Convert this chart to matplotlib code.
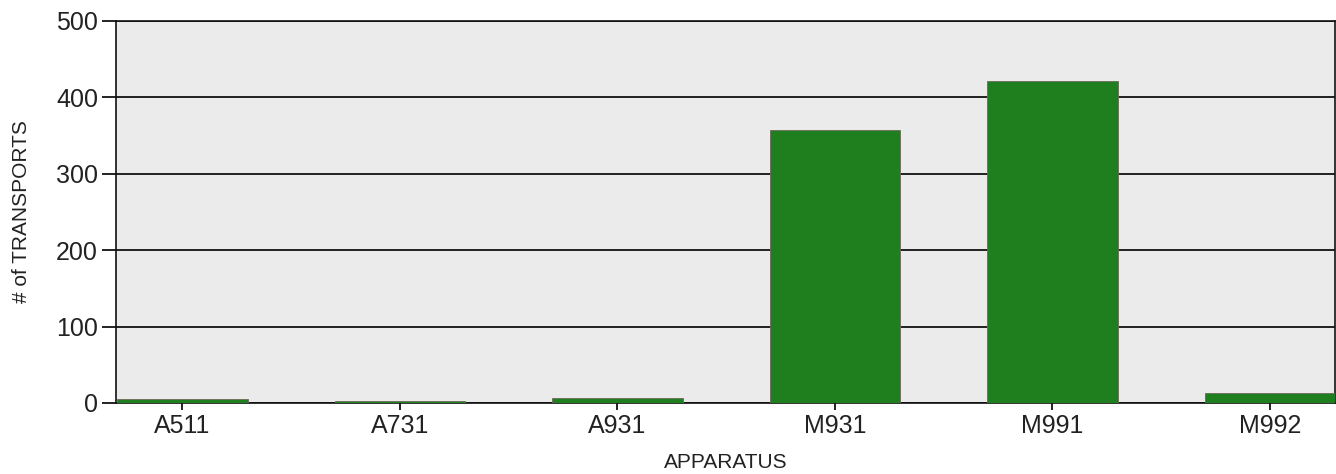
import matplotlib.pyplot as plt

plt.rcParams['font.family'] = ['Liberation Sans', 'DejaVu Sans']

apparatus = ['A511', 'A731', 'A931', 'M931', 'M991', 'M992']
transports = [5, 2, 6, 357, 421, 13]
yticks = [0, 100, 200, 300, 400, 500]

fig = plt.figure(figsize=(13.36, 4.74), dpi=100)
ax = fig.add_axes([116 / 1336, 71 / 474, 1219 / 1336, 382 / 474])
ax.set_facecolor('#ebebeb')

x = range(len(apparatus))
ax.bar(x, transports, width=0.6, color='#1f7f1f', edgecolor='#6a6a5a',
       linewidth=0.6, zorder=3)

ax.set_ylim(0, 500)
ax.set_xlim(-0.305, len(apparatus) - 0.7)
ax.set_yticks(yticks)
ax.set_xticks(list(x))
ax.set_xticklabels(apparatus)
ax.grid(axis='y', color='#111111', linewidth=1.3, zorder=1)
ax.tick_params(axis='y', length=10, width=1.3, labelsize=18, pad=3,
               color='#111111', labelcolor='#222222')
ax.tick_params(axis='x', length=5, width=1.3, labelsize=18, pad=3,
               color='#111111', labelcolor='#222222')

for s in ax.spines.values():
    s.set_color('#111111')
    s.set_linewidth(1.2)

ax.set_xlabel('APPARATUS', fontsize=15, color='#222222')
ax.set_ylabel('# of TRANSPORTS', fontsize=15, color='#222222')
ax.xaxis.set_label_coords(0.5, -0.132)
ax.yaxis.set_label_coords(-0.07, 0.5)

fig.savefig('out.png', dpi=100)
